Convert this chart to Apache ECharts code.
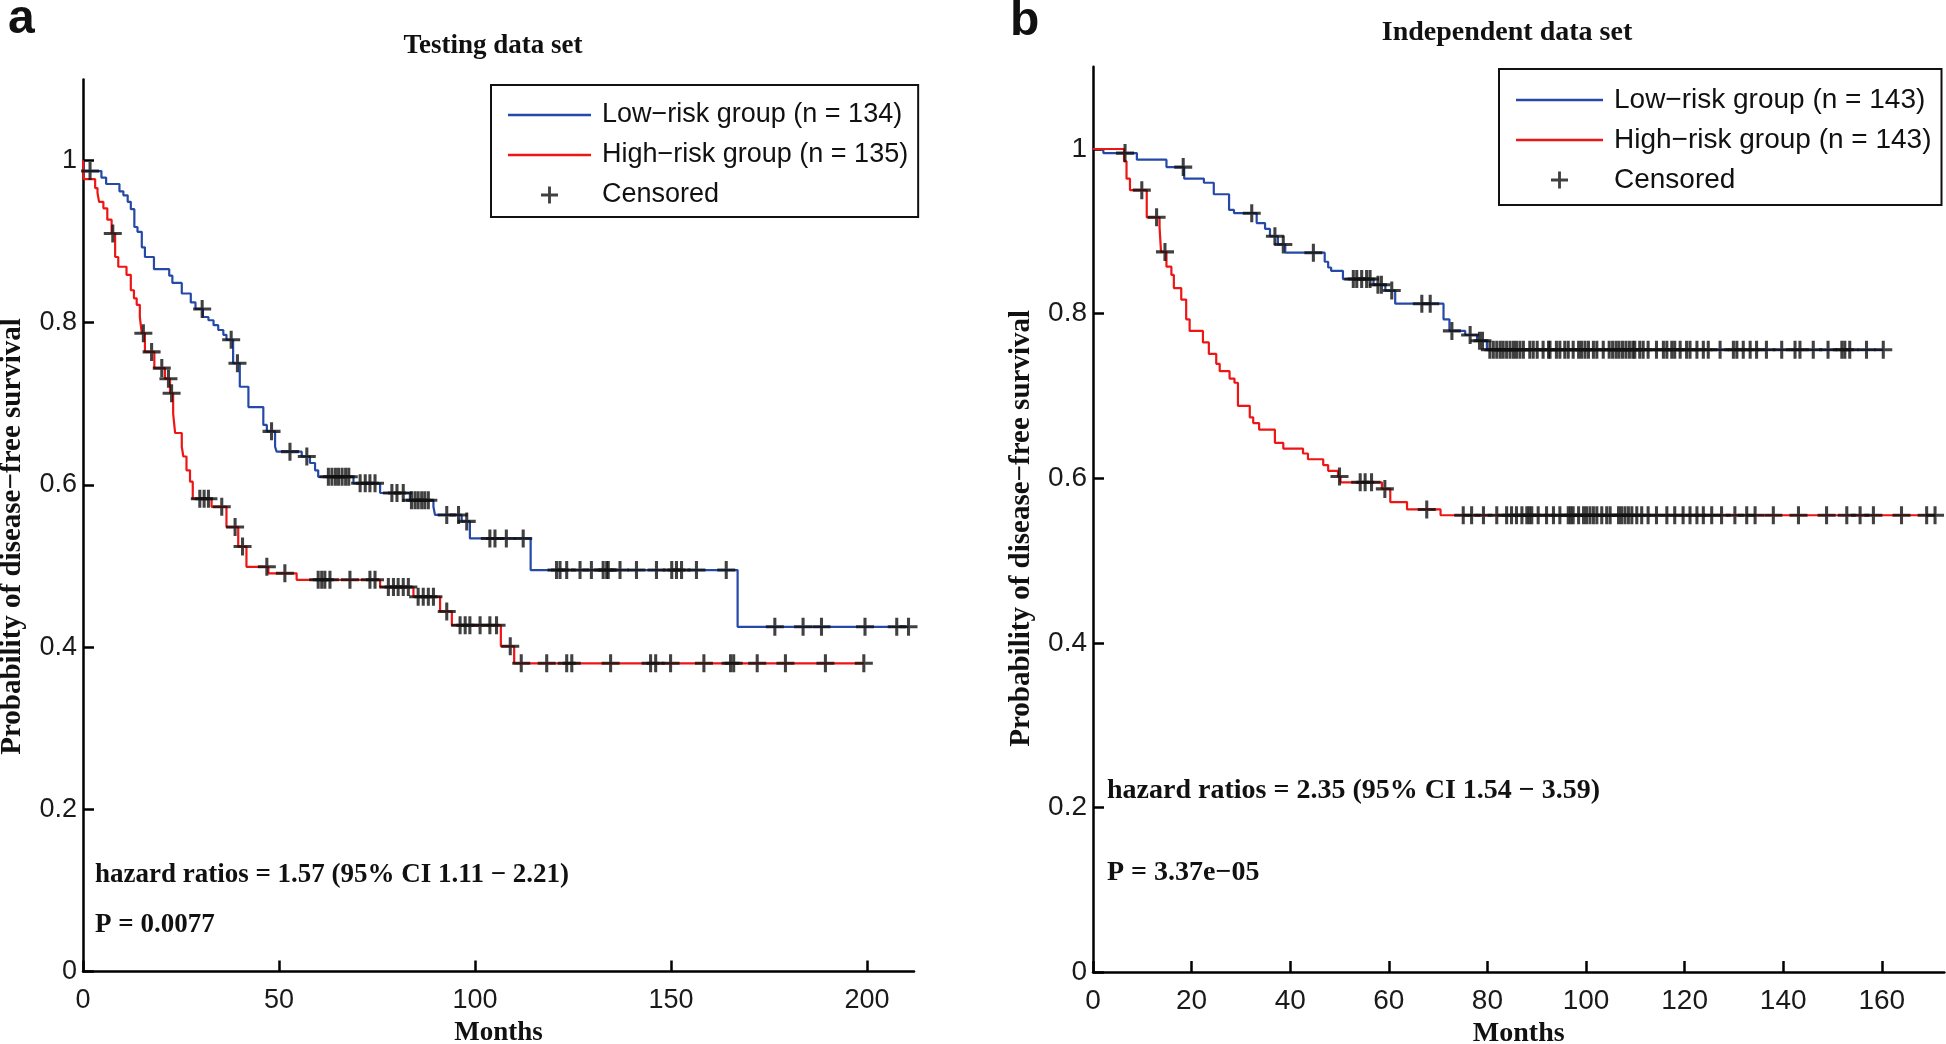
<!DOCTYPE html>
<html>
<head>
<meta charset="utf-8">
<title>Disease-free survival</title>
<script src="https://cdn.jsdelivr.net/npm/echarts@6/dist/echarts.min.js"></script>
<style>
    html, body { margin: 0; padding: 0; background: #fff; }
    #chart { width: 1946px; height: 1044px; }
</style>
</head>
<body>
<div id="chart"></div>
<script>
// Panel a - testing data set: [month, survival after the drop]
const testLowSteps = [
    [0, 1], [0.3, 0.987], [4.7, 0.979], [5.9, 0.971], [9.3, 0.962], [10.3, 0.957], [11.4, 0.949],
    [12.2, 0.940], [13.1, 0.918], [13.9, 0.912], [15.0, 0.893], [15.8, 0.881], [18.1, 0.866],
    [22.0, 0.858], [22.8, 0.849], [25.2, 0.836], [27.5, 0.825], [28.7, 0.817], [30.6, 0.807],
    [32.0, 0.803], [33.3, 0.797], [34.5, 0.791], [35.8, 0.785], [36.6, 0.779], [38.3, 0.750],
    [40.0, 0.721], [42.2, 0.696], [46.0, 0.674], [46.9, 0.666], [49.0, 0.647], [49.4, 0.641],
    [55.8, 0.635], [57.9, 0.627], [59.2, 0.618], [60.0, 0.610], [69.0, 0.602], [75.8, 0.590],
    [83.4, 0.581], [89.4, 0.573], [89.8, 0.563], [96.6, 0.555], [98.7, 0.534], [114.2, 0.495],
    [167.0, 0.425]
];
const testHighSteps = [
    [0, 1], [0.2, 0.977], [3.1, 0.966], [3.7, 0.960], [4.1, 0.949], [5.2, 0.941], [6.2, 0.927],
    [7.3, 0.910], [8.2, 0.881], [9.0, 0.869], [11.1, 0.859], [12.2, 0.840], [13.0, 0.830],
    [13.7, 0.822], [14.5, 0.807], [15.0, 0.787], [15.8, 0.764], [18.2, 0.744], [20.9, 0.731],
    [22.2, 0.713], [23.0, 0.688], [23.5, 0.664], [25.2, 0.647], [25.6, 0.635], [26.4, 0.618],
    [27.3, 0.604], [28.0, 0.583], [32.8, 0.573], [36.6, 0.548], [39.6, 0.524], [41.7, 0.499],
    [47.3, 0.491], [54.5, 0.483], [75.8, 0.474], [84.3, 0.462], [91.1, 0.444], [94.1, 0.427],
    [106.6, 0.401], [110.0, 0.380]
];
const testLowCensored = [
    1.8, 30.4, 37.8, 39.4, 48.1, 52.8, 57.1, 62.6, 63.5, 64.4, 65.2, 66.1, 67.0, 67.8, 70.7, 72.0,
    73.2, 74.5, 78.8, 80.1, 81.7, 83.8, 84.7, 85.5, 86.4, 87.2, 88.1, 92.8, 95.8, 97.9, 103.8,
    105.1, 108.0, 112.3, 120.8, 121.7, 123.4, 126.8, 129.7, 132.7, 133.6, 134.0, 137.0, 141.2,
    146.3, 150.2, 151.4, 152.7, 156.5, 164.1, 176.5, 183.7, 188.4, 199.5, 207.6, 210.6
];
const testHighCensored = [
    7.6, 15.4, 17.5, 20.1, 21.8, 22.6, 29.8, 30.9, 32.0, 35.4, 38.8, 40.7, 46.9, 51.5, 60.0, 60.9,
    61.7, 63.0, 68.1, 73.2, 74.5, 77.9, 79.2, 80.4, 81.7, 83.0, 85.5, 86.8, 88.1, 89.4, 92.8, 96.2,
    97.5, 98.7, 101.3, 103.8, 105.5, 109.0, 111.8, 118.3, 123.4, 124.7, 134.6, 144.8, 146.1, 149.9,
    158.4, 165.2, 166.0, 172.0, 179.2, 189.4, 199.2
];

// Panel b - independent data set
const indepLowSteps = [
    [0, 1], [2.1, 0.995], [8.9, 0.987], [14.9, 0.978], [18.5, 0.964], [22.5, 0.959], [24.5, 0.945],
    [27.6, 0.926], [28.6, 0.922], [33.2, 0.910], [34.9, 0.903], [35.9, 0.894], [37.5, 0.884],
    [39.0, 0.874], [47.0, 0.863], [47.7, 0.856], [48.3, 0.852], [50.7, 0.842], [56.9, 0.835],
    [59.3, 0.828], [61.3, 0.812], [71.1, 0.793], [72.3, 0.779], [75.5, 0.774], [77.9, 0.767],
    [79.9, 0.756]
];
const indepHighSteps = [
    [0, 1], [6.3, 0.985], [6.8, 0.964], [7.5, 0.950], [10.9, 0.917], [13.5, 0.905], [13.8, 0.875],
    [14.9, 0.857], [15.9, 0.847], [16.4, 0.831], [17.9, 0.817], [18.9, 0.793], [19.6, 0.779],
    [22.3, 0.765], [23.5, 0.751], [25.0, 0.739], [25.7, 0.730], [27.7, 0.721], [28.7, 0.716],
    [29.4, 0.688], [31.8, 0.674], [32.5, 0.667], [33.7, 0.659], [36.9, 0.643], [38.6, 0.636],
    [42.6, 0.630], [43.6, 0.623], [46.7, 0.616], [47.7, 0.609], [49.7, 0.602], [50.2, 0.595],
    [58.6, 0.587], [60.3, 0.571], [63.7, 0.562], [70.5, 0.555]
];
const indepLowCensored = [
    6.5, 18.3, 32.2, 36.9, 38.6, 44.7, 52.8, 53.5, 54.5, 55.5, 56.2, 57.8, 58.5, 60.6, 66.7, 68.4,
    72.8, 76.5, 78.4, 79.0, 80.5, 81.2, 81.9, 82.6, 83.2, 83.9, 84.6, 85.3, 85.9, 86.6, 87.3, 88.6,
    89.3, 90.1, 91.3, 92.4, 92.7, 94.0, 94.7, 95.7, 96.4, 97.4, 98.5, 99.1, 99.8, 100.5, 101.5,
    102.2, 103.5, 104.7, 105.4, 106.1, 106.7, 107.4, 108.1, 108.8, 109.5, 109.9, 110.9, 111.6,
    112.6, 114.3, 115.7, 116.4, 117.4, 118.0, 119.1, 120.4, 121.1, 122.5, 123.8, 124.8, 127.2,
    129.9, 130.6, 131.9, 133.3, 134.6, 136.6, 139.7, 142.4, 143.4, 146.1, 149.1, 151.9, 152.5,
    153.5, 156.9, 160.3
];
const indepHighCensored = [
    9.9, 12.9, 14.6, 50.0, 54.2, 55.2, 56.5, 59.2, 67.7, 75.1, 76.8, 79.2, 81.9, 83.9, 84.9, 85.9,
    87.0, 88.0, 88.5, 89.0, 90.3, 92.0, 93.4, 94.7, 96.4, 96.9, 97.4, 98.5, 99.5, 100.1, 100.8,
    101.5, 102.2, 103.2, 104.2, 104.9, 106.6, 107.2, 107.9, 108.6, 109.3, 110.3, 111.3, 112.6,
    114.3, 116.4, 118.0, 119.7, 121.1, 122.5, 123.8, 125.5, 127.5, 130.2, 132.6, 134.3, 138.0,
    143.1, 148.8, 152.9, 155.6, 158.3, 164.0, 169.1, 170.8
];

// Axis ticks
const probTicks = [0, 0.2, 0.4, 0.6, 0.8, 1];
const testMonthTicks = [0, 50, 100, 150, 200];
const indepMonthTicks = [0, 20, 40, 60, 80, 100, 120, 140, 160];

const BLUE = '#2449a6';
const RED = '#ee1515';
const SANS = '"Liberation Sans", Arial, sans-serif';
const SERIF = '"Liberation Serif", "Times New Roman", serif';
const PLUS = 'path://M-1.7,-10 L1.7,-10 L1.7,10 L-1.7,10 Z M-10,-1.7 L10,-1.7 L10,1.7 L-10,1.7 Z';
const LINE_ICON = 'path://M0,0 L84,0 L84,2.4 L0,2.4 Z';

/**
 * Kaplan-Meier value at time t (last step not after t)
 */
function survivalAt(steps, t) {
    let s = steps[0][1];
    for (const [m, v] of steps) {
        if (m <= t) s = v; else break;
    }
    return s;
}

function curveSeries(name, steps, censored, color, idx) {
    const last = steps[steps.length - 1];
    const end = Math.max(last[0], censored[censored.length - 1]);
    return {
        name: name,
        type: 'line',
        step: 'end',
        xAxisIndex: idx,
        yAxisIndex: idx,
        symbol: 'none',
        data: steps.concat([[end, last[1]]]),
        lineStyle: { color: color, width: 2.2 },
        itemStyle: { color: color },
        z: 2
    };
}

function censorSeries(groups, idx) {
    const data = [];
    groups.forEach(([steps, times]) => {
        times.forEach(t => data.push([t, survivalAt(steps, t)]));
    });
    return {
        name: 'Censored',
        type: 'scatter',
        xAxisIndex: idx,
        yAxisIndex: idx,
        symbol: PLUS,
        symbolSize: 18,
        itemStyle: { color: '#111' },
        data: data,
        z: 3
    };
}

function xAxis(idx, max, ticks, fontSize, margin, nameGap) {
    return {
        type: 'value',
        gridIndex: idx,
        min: 0,
        max: max,
        interval: ticks[1] - ticks[0],
        name: 'Months',
        nameLocation: 'middle',
        nameGap: nameGap,
        nameTextStyle: { fontFamily: SERIF, fontWeight: 'bold', fontSize: fontSize, color: '#111' },
        splitLine: { show: false },
        axisLine: { lineStyle: { color: '#000', width: 2.5 } },
        axisTick: { inside: true, length: 11, customValues: ticks, lineStyle: { color: '#000', width: 2.5 } },
        axisLabel: { customValues: ticks, margin: margin, fontFamily: SANS, fontSize: fontSize, color: '#1a1a1a' }
    };
}

function yAxis(idx, fontSize, nameGap, nameShift) {
    return {
        type: 'value',
        gridIndex: idx,
        min: 0,
        max: 1.1,
        interval: 0.2,
        name: 'Probability of disease\u2212free survival',
        nameLocation: 'middle',
        nameRotate: 90,
        nameGap: nameGap,
        nameTextStyle: {
            fontFamily: SERIF, fontWeight: 'bold', fontSize: 29, color: '#111',
            padding: [0, nameShift, 0, 0]
        },
        splitLine: { show: false },
        axisLine: { lineStyle: { color: '#000', width: 2.5 } },
        axisTick: { inside: true, length: 11, customValues: probTicks, lineStyle: { color: '#000', width: 2.5 } },
        axisLabel: { customValues: probTicks, margin: 6, fontFamily: SANS, fontSize: fontSize, color: '#1a1a1a' }
    };
}

function legend(left, top, padding, itemWidth, fontSize, names) {
    return {
        orient: 'vertical',
        left: left,
        top: top,
        padding: padding,
        itemGap: 12,
        itemWidth: itemWidth,
        itemHeight: 17,
        selectedMode: false,
        borderColor: '#111',
        borderWidth: 2,
        borderRadius: 0,
        backgroundColor: '#fff',
        textStyle: { fontFamily: SANS, fontSize: fontSize, lineHeight: 28, color: '#111', padding: [0, 0, 0, 6] },
        data: [
            { name: names[0], icon: LINE_ICON, itemStyle: { color: BLUE } },
            { name: names[1], icon: LINE_ICON, itemStyle: { color: RED } },
            { name: 'Censored', icon: PLUS, itemStyle: { color: '#111' } }
        ]
    };
}

function text(str, x, y, font, align) {
    return {
        type: 'text',
        x: x,
        y: y,
        style: {
            text: str,
            font: font,
            fill: '#111',
            align: align || 'left',
            verticalAlign: 'middle',
            textAlign: align || 'left',
            textVerticalAlign: 'middle'
        }
    };
}

const chart = echarts.init(document.getElementById('chart'));

const testLowName = 'Low\u2212risk group (n = 134)';
const testHighName = 'High\u2212risk group (n = 135)';
const indepLowName = 'Low\u2212risk group (n = 143)';
const indepHighName = 'High\u2212risk group (n = 143)';

chart.setOption({
    animation: false,
    backgroundColor: '#fff',
    grid: [
        { left: 83, top: 79.4, width: 831, height: 892.1, outerBoundsMode: 'none' },
        { left: 1093, top: 66.7, width: 851.4, height: 905.3, outerBoundsMode: 'none' }
    ],
    xAxis: [
        xAxis(0, 212, testMonthTicks, 27, 16, 44),
        xAxis(1, 172.7, indepMonthTicks, 28, 15, 48)
    ],
    yAxis: [
        yAxis(0, 27, 56, 22),
        yAxis(1, 28, 57, 18)
    ],
    legend: [
        legend(491, 85, [16, 10, 8, 17], 83, 27, [testLowName, testHighName]),
        legend(1499, 69, [17, 10, 11, 17], 87, 28, [indepLowName, indepHighName])
    ],
    graphic: [
        text('a', 8, 20, 'bold 48px ' + SANS),
        text('b', 1010, 22, 'bold 48px ' + SANS),
        text('Testing data set', 493, 46, 'bold 27px ' + SERIF, 'center'),
        text('Independent data set', 1507, 33, 'bold 28px ' + SERIF, 'center'),
        text('hazard ratios = 1.57 (95% CI 1.11 \u2212 2.21)', 95, 875, 'bold 27px ' + SERIF),
        text('P = 0.0077', 95, 925, 'bold 27px ' + SERIF),
        text('hazard ratios = 2.35 (95% CI 1.54 \u2212 3.59)', 1107, 791, 'bold 28px ' + SERIF),
        text('P = 3.37e\u221205', 1107, 873, 'bold 28px ' + SERIF)
    ],
    series: [
        curveSeries(testLowName, testLowSteps, testLowCensored, BLUE, 0),
        curveSeries(testHighName, testHighSteps, testHighCensored, RED, 0),
        censorSeries([[testLowSteps, testLowCensored], [testHighSteps, testHighCensored]], 0),
        curveSeries(indepLowName, indepLowSteps, indepLowCensored, BLUE, 1),
        curveSeries(indepHighName, indepHighSteps, indepHighCensored, RED, 1),
        censorSeries([[indepLowSteps, indepLowCensored], [indepHighSteps, indepHighCensored]], 1)
    ]
});
</script>
</body>
</html>
